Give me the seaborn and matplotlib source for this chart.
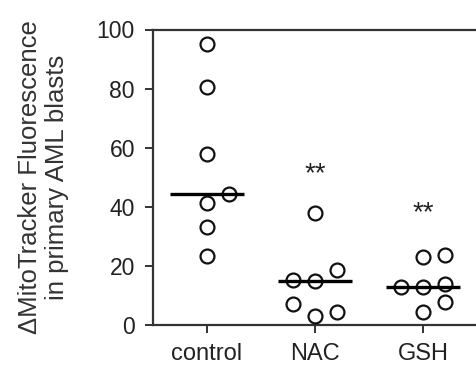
import numpy as np
import pandas as pd
import matplotlib.pyplot as plt
import seaborn as sns

# ----------------------------
# DATA
# ----------------------------
groups = ["control", "NAC", "GSH"]
control = [95.0, 80.5, 58.0, 41.4, 44.4, 33.3, 23.2]
nac = [37.8, 14.8, 18.7, 15.1, 3.1, 4.3, 7.1]
gsh = [23.0, 23.8, 12.9, 14.0, 12.9, 4.5, 7.8]
stars = ["", "**", "**"]
star_y = [0, 51, 38]
yticks = [0, 20, 40, 60, 80, 100]


# simple column-scatter layout: centre, right, left, ... when points collide
def spread(values, gap=4.5, step=0.205):
    placed = []
    xs = []
    for v in values:
        for slot in [0, 1, -1, 2, -2, 3, -3]:
            if all(abs(v - pv) >= gap for ps, pv in placed if ps == slot):
                break
        placed.append((slot, v))
        xs.append(slot * step)
    return xs


rows = []
for i, vals in enumerate([control, nac, gsh]):
    for dx, v in zip(spread(vals), vals):
        rows.append({"group": groups[i], "x": i + dx, "value": v})
df = pd.DataFrame(rows)

# ----------------------------
# PLOT
# ----------------------------
sns.set_style("ticks")
plt.rcParams["font.family"] = ["Liberation Sans", "DejaVu Sans"]

fig = plt.figure(figsize=(4.76, 3.68), dpi=100)
ax = fig.add_axes([153 / 476, 43 / 368, 351 / 476, 295.5 / 368])

sns.scatterplot(data=df, x="x", y="value", ax=ax, marker="o", s=100,
                facecolor="white", edgecolor="#111111", linewidth=1.6,
                clip_on=False, zorder=3)

# median bars
for i, vals in enumerate([control, nac, gsh]):
    ax.hlines(np.median(vals), i - 0.34, i + 0.34, color="black",
              linewidth=2.4, zorder=4)
    if stars[i]:
        ax.text(i, star_y[i], stars[i], ha="center", va="center",
                fontsize=20, color="#222222")

ax.set_xlim(-0.5, 2.75)
ax.set_ylim(0, 100)
ax.set_xticks(range(len(groups)))
ax.set_xticklabels(groups)
ax.set_yticks(yticks)
ax.set_xlabel("")
ax.set_ylabel("\u0394MitoTracker Fluorescence\nin primary AML blasts",
              fontsize=18.5, color="#333333", labelpad=20, linespacing=1.15)

for side in ["left", "bottom", "top"]:
    ax.spines[side].set_linewidth(1.6)
    ax.spines[side].set_color("#333333")
ax.spines["right"].set_visible(False)
ax.tick_params(axis="y", direction="out", length=6, width=1.4,
               color="#333333", labelsize=16.5, labelcolor="#222222", pad=7)
ax.tick_params(axis="x", direction="out", length=6, width=1.4,
               color="#333333", labelsize=17, labelcolor="#222222", pad=7)

plt.savefig("out.png", dpi=100)
